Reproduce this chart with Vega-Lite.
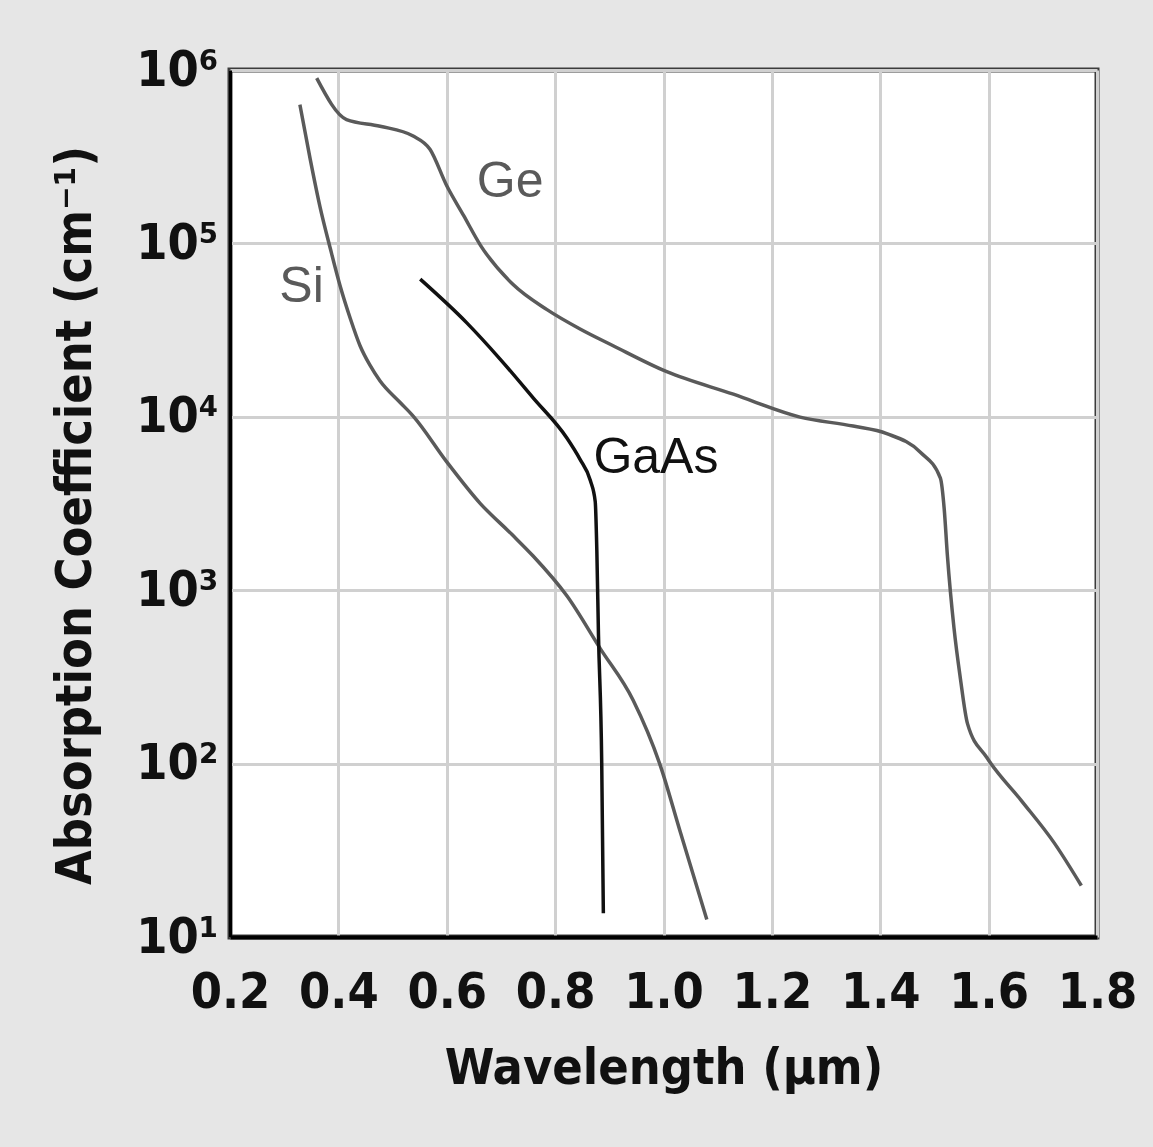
{
  "$schema": "https://vega.github.io/schema/vega-lite/v6.json",
  "width": 867,
  "height": 867,
  "autosize": {"type": "none"},
  "padding": {"left": 230, "top": 70, "right": 56, "bottom": 210},
  "background": "#e6e6e6",
  "config": {
    "view": {"fill": "white", "stroke": "#3c3c3c", "strokeWidth": 5},
    "axis": {
      "labelFont": "Liberation Sans Narrow, DejaVu Sans Condensed, sans-serif",
      "titleFont": "Liberation Sans Narrow, DejaVu Sans Condensed, sans-serif",
      "labelColor": "#111111",
      "titleColor": "#111111",
      "labelFontWeight": "bold",
      "titleFontWeight": "bold",
      "gridColor": "#d0d0d0",
      "gridWidth": 3,
      "gridOpacity": 1,
      "ticks": false,
      "domainColor": "#000000",
      "domainWidth": 4
    }
  },
  "datasets": {
    "curves": [
      {"material": "Ge", "wavelength": 0.360, "alpha": 897000},
      {"material": "Ge", "wavelength": 0.415, "alpha": 518000},
      {"material": "Ge", "wavelength": 0.477, "alpha": 474000},
      {"material": "Ge", "wavelength": 0.538, "alpha": 416000},
      {"material": "Ge", "wavelength": 0.569, "alpha": 349000},
      {"material": "Ge", "wavelength": 0.600, "alpha": 215000},
      {"material": "Ge", "wavelength": 0.631, "alpha": 145000},
      {"material": "Ge", "wavelength": 0.662, "alpha": 97800},
      {"material": "Ge", "wavelength": 0.722, "alpha": 58100},
      {"material": "Ge", "wavelength": 0.785, "alpha": 41500},
      {"material": "Ge", "wavelength": 0.846, "alpha": 32100},
      {"material": "Ge", "wavelength": 0.907, "alpha": 25700},
      {"material": "Ge", "wavelength": 1.006, "alpha": 18200},
      {"material": "Ge", "wavelength": 1.129, "alpha": 13500},
      {"material": "Ge", "wavelength": 1.252, "alpha": 9960},
      {"material": "Ge", "wavelength": 1.350, "alpha": 8840},
      {"material": "Ge", "wavelength": 1.412, "alpha": 8000},
      {"material": "Ge", "wavelength": 1.474, "alpha": 6250},
      {"material": "Ge", "wavelength": 1.511, "alpha": 4430},
      {"material": "Ge", "wavelength": 1.518, "alpha": 2950},
      {"material": "Ge", "wavelength": 1.524, "alpha": 1570},
      {"material": "Ge", "wavelength": 1.536, "alpha": 608},
      {"material": "Ge", "wavelength": 1.548, "alpha": 308},
      {"material": "Ge", "wavelength": 1.561, "alpha": 170},
      {"material": "Ge", "wavelength": 1.597, "alpha": 108},
      {"material": "Ge", "wavelength": 1.660, "alpha": 61.4},
      {"material": "Ge", "wavelength": 1.721, "alpha": 34.9},
      {"material": "Ge", "wavelength": 1.771, "alpha": 19.8},
      {"material": "Si", "wavelength": 0.329, "alpha": 631000},
      {"material": "Si", "wavelength": 0.348, "alpha": 306000},
      {"material": "Si", "wavelength": 0.366, "alpha": 163000},
      {"material": "Si", "wavelength": 0.385, "alpha": 93700},
      {"material": "Si", "wavelength": 0.403, "alpha": 57200},
      {"material": "Si", "wavelength": 0.422, "alpha": 36900},
      {"material": "Si", "wavelength": 0.440, "alpha": 25700},
      {"material": "Si", "wavelength": 0.458, "alpha": 19900},
      {"material": "Si", "wavelength": 0.477, "alpha": 16100},
      {"material": "Si", "wavelength": 0.514, "alpha": 12100},
      {"material": "Si", "wavelength": 0.538, "alpha": 10100},
      {"material": "Si", "wavelength": 0.600, "alpha": 5500},
      {"material": "Si", "wavelength": 0.662, "alpha": 3160},
      {"material": "Si", "wavelength": 0.720, "alpha": 2100},
      {"material": "Si", "wavelength": 0.759, "alpha": 1580},
      {"material": "Si", "wavelength": 0.822, "alpha": 925},
      {"material": "Si", "wavelength": 0.883, "alpha": 462},
      {"material": "Si", "wavelength": 0.944, "alpha": 232},
      {"material": "Si", "wavelength": 0.994, "alpha": 97.7},
      {"material": "Si", "wavelength": 1.031, "alpha": 40.3},
      {"material": "Si", "wavelength": 1.080, "alpha": 12.6},
      {"material": "GaAs", "wavelength": 0.551, "alpha": 62200},
      {"material": "GaAs", "wavelength": 0.637, "alpha": 34800},
      {"material": "GaAs", "wavelength": 0.698, "alpha": 21600},
      {"material": "GaAs", "wavelength": 0.759, "alpha": 12900},
      {"material": "GaAs", "wavelength": 0.822, "alpha": 7520},
      {"material": "GaAs", "wavelength": 0.846, "alpha": 5680},
      {"material": "GaAs", "wavelength": 0.865, "alpha": 4290},
      {"material": "GaAs", "wavelength": 0.874, "alpha": 3240},
      {"material": "GaAs", "wavelength": 0.877, "alpha": 1680},
      {"material": "GaAs", "wavelength": 0.880, "alpha": 552},
      {"material": "GaAs", "wavelength": 0.886, "alpha": 100},
      {"material": "GaAs", "wavelength": 0.889, "alpha": 13.7}
    ],
    "labels": [
      {"material": "Ge", "wavelength": 0.717, "alpha": 226000},
      {"material": "Si", "wavelength": 0.332, "alpha": 56000},
      {"material": "GaAs", "wavelength": 0.986, "alpha": 5800}
    ]
  },
  "encoding": {
    "x": {
      "field": "wavelength",
      "type": "quantitative",
      "scale": {"domain": [0.2, 1.8], "nice": false, "zero": false},
      "axis": {
        "title": "Wavelength (µm)",
        "values": [0.2, 0.4, 0.6, 0.8, 1.0, 1.2, 1.4, 1.6, 1.8],
        "format": ".1f",
        "labelFontSize": 50,
        "labelPadding": 30,
        "titleFontSize": 50,
        "titleBaseline": "alphabetic",
        "titleY": 146,
        "labelFlush": false,
        "labelOverlap": false
      }
    },
    "y": {
      "field": "alpha",
      "type": "quantitative",
      "scale": {"type": "log", "domain": [10, 1000000], "nice": false},
      "axis": {
        "title": "Absorption Coefficient (cm⁻¹)",
        "values": [10, 100, 1000, 10000, 100000, 1000000],
        "labelExpr": "datum.value >= 999999 ? '10⁶' : datum.value >= 99999 ? '10⁵' : datum.value >= 9999 ? '10⁴' : datum.value >= 999 ? '10³' : datum.value >= 99 ? '10²' : '10¹'",
        "labelFontSize": 50,
        "labelPadding": 12,
        "labelBaseline": "middle",
        "labelFlush": false,
        "labelOverlap": false,
        "titleFontSize": 50,
        "titleBaseline": "alphabetic",
        "titleX": -140,
        "titleY": 445,
        "domainWidth": 3
      }
    },
    "color": {
      "field": "material",
      "type": "nominal",
      "scale": {"domain": ["Ge", "Si", "GaAs"], "range": ["#5a5a5a", "#5a5a5a", "#111111"]},
      "legend": null
    }
  },
  "layer": [
    {
      "data": {"name": "curves"},
      "mark": {"type": "line", "interpolate": "monotone", "strokeWidth": 3.5, "clip": true},
      "encoding": {"detail": {"field": "material"}}
    },
    {
      "data": {"name": "labels"},
      "mark": {"type": "text", "font": "Liberation Sans, Arial, sans-serif", "fontSize": 50, "fontWeight": 500, "align": "center", "baseline": "middle"},
      "encoding": {"text": {"field": "material"}}
    }
  ]
}
